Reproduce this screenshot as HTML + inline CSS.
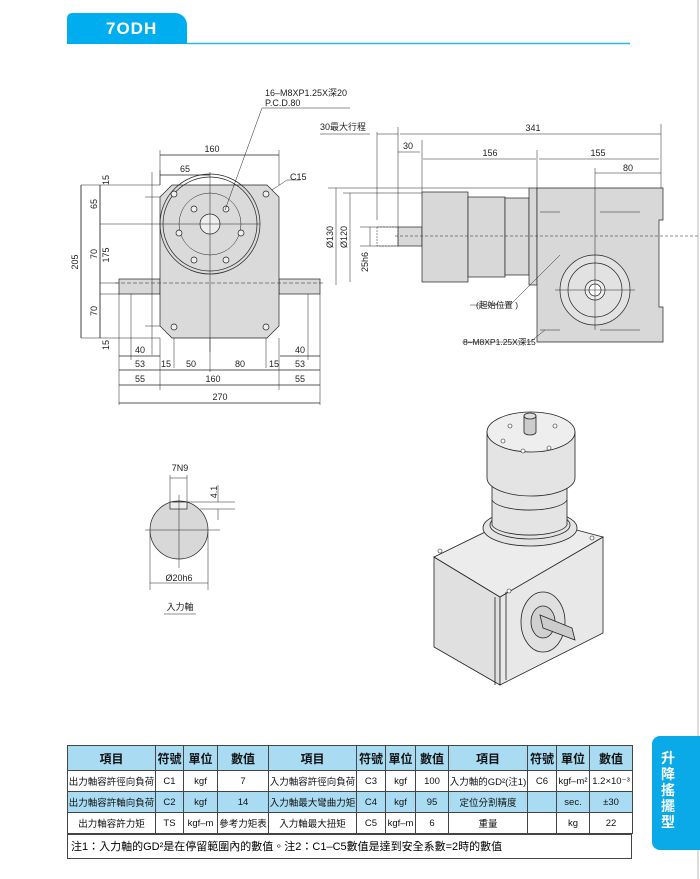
<!DOCTYPE html>
<html><head><meta charset="utf-8"><style>
body{margin:0;background:#fff;width:700px;height:879px;overflow:hidden;position:relative;font-family:"Liberation Sans","Noto Sans CJK TC",sans-serif}
svg{position:absolute;left:0;top:0}
table{position:absolute;left:67px;top:745px;border-collapse:collapse;font-size:9.5px;color:#111}
td{border:1px solid #444;text-align:center;padding:0;height:20px;font-family:"Liberation Sans","Noto Sans CJK TC",sans-serif}
tr.h td{background:#a9dcf2;height:24px;font-size:12px;font-weight:bold}
tr.b td{background:#a9dcf2}
#note{position:absolute;left:67px;top:834px;width:565px;height:25px;border:1px solid #444;box-sizing:border-box;font-size:11px;line-height:24px;padding-left:3px}
#tab{position:absolute;left:652px;top:736px;width:48px;height:114px;background:#0aa9e8;border-radius:8px 0 0 8px;color:#fff;font-weight:bold;font-size:14px;line-height:16px;padding-top:14px;box-sizing:border-box;padding-left:9px;font-family:"Noto Sans CJK TC",sans-serif}
</style></head><body>
<svg width="700" height="879" font-family="Liberation Sans, Noto Sans CJK TC, sans-serif" font-size="9" fill="#222">
<line x1="698" y1="0" x2="698" y2="879" stroke="#bbb"/>
<path d="M67 44 V18 a5 5 0 0 1 5-5 H175 a12 12 0 0 1 12 12 V44 Z" fill="#00aeef"/>
<line x1="187" y1="43.5" x2="630" y2="43.5" stroke="#29b8f0" stroke-width="1.5"/>
<text x="106" y="34" font-size="17" font-weight="bold" fill="#fff" letter-spacing="1">7ODH</text>
<g stroke="#222" stroke-width="0.7" fill="none">
<rect x="119" y="279" width="41" height="15" fill="#d8d8d8"/>
<rect x="279" y="279" width="41" height="15" fill="#d8d8d8"/>
<path d="M172 185 H267 L279 197 V326 L267 338 H172 L160 326 V197 Z" fill="#dadada"/>
<circle cx="210" cy="224" r="50"/><circle cx="210" cy="224" r="47"/>
<circle cx="210" cy="224" r="31" stroke-width="0.5"/>
<circle cx="210" cy="224" r="10" fill="#eee"/>
<g fill="#eee"><circle cx="174" cy="194" r="3"/><circle cx="266" cy="194" r="3"/><circle cx="174" cy="327" r="3"/><circle cx="266" cy="327" r="3"/>
<circle cx="194" cy="209" r="3"/><circle cx="226" cy="209" r="3"/><circle cx="179" cy="233" r="3"/><circle cx="241" cy="233" r="3"/><circle cx="194" cy="260" r="3"/><circle cx="226" cy="260" r="3"/></g>
<line x1="210" y1="172" x2="210" y2="352" stroke-width="0.5"/>
<line x1="115" y1="283" x2="325" y2="283" stroke-dasharray="4 2" stroke-width="0.5"/>
<line x1="100" y1="224" x2="260" y2="224" stroke-width="0.5"/>
<path d="M160 150V185M279 150V185M160 170v15M81 185H160M81 338H160M81 185V338M100 185V338M100 224M100 283H119M100 294H119M152 172V355M145 197h15M145 326h15M225 210L262 108H350M272 190L287 180H300M119 294V405M320 294V405M160 338V390M279 338V390M174 338v30M266 338v30M210 338V372M131 294V360M308 294V360" stroke-width="0.5"/>
<path d="M160 155H279M160 175H210M81 185V338M100 185V283M100 283V338M119 356H160M280 356H320M119 370H160M160 370H175M175 370H210M210 370H266M266 370H279M279 370H320M119 385H160M160 385H279M279 385H320M119 403H320"/>
</g>
<g font-size="9">
<text x="212" y="152" text-anchor="middle">160</text><text x="185" y="172" text-anchor="middle">65</text>
<text x="290" y="180">C15</text>
<text x="265" y="96">16–M8XP1.25X深20</text><text x="265" y="106">P.C.D.80</text>
<text x="140" y="353" text-anchor="middle">40</text><text x="300" y="353" text-anchor="middle">40</text>
<text x="140" y="367" text-anchor="middle">53</text><text x="166" y="367" text-anchor="middle">15</text><text x="191" y="367" text-anchor="middle">50</text><text x="240" y="367" text-anchor="middle">80</text><text x="274" y="367" text-anchor="middle">15</text><text x="300" y="367" text-anchor="middle">53</text>
<text x="140" y="382" text-anchor="middle">55</text><text x="213" y="382" text-anchor="middle">160</text><text x="300" y="382" text-anchor="middle">55</text>
<text x="220" y="400" text-anchor="middle">270</text>
<g transform="rotate(-90)"><text x="-262" y="78" text-anchor="middle">205</text><text x="-204" y="97" text-anchor="middle">65</text><text x="-254" y="97" text-anchor="middle">70</text><text x="-311" y="97" text-anchor="middle">70</text><text x="-255" y="109" text-anchor="middle">175</text><text x="-180" y="109" text-anchor="middle">15</text><text x="-345" y="109" text-anchor="middle">15</text>
<text x="-237" y="333" text-anchor="middle">Ø130</text><text x="-237" y="347" text-anchor="middle">Ø120</text><text x="-262" y="368" text-anchor="middle">25h6</text><text x="-492" y="217" text-anchor="middle">4.1</text></g>
</g>
<g stroke="#222" stroke-width="0.7" fill="#d8d8d8">
<rect x="398" y="227" width="24" height="19"/>
<rect x="422" y="192" width="46" height="90"/>
<rect x="468" y="197" width="37" height="80"/>
<rect x="505" y="198" width="24" height="77"/>
<rect x="529" y="188" width="8" height="97"/>
<path d="M537 188H663V220H659V307H663V342H537Z"/>
<circle cx="595" cy="290" r="35" fill="#e2e2e2"/><circle cx="595" cy="290" r="27" fill="none"/><circle cx="595" cy="290" r="10" fill="#eee"/><circle cx="595" cy="290" r="6" fill="#fff"/>
</g>
<g stroke="#222" stroke-width="0.5" fill="none">
<rect x="377" y="227" width="21" height="19" stroke-dasharray="2 1"/>
<line x1="395" y1="236" x2="700" y2="236" stroke-dasharray="3 2"/>
<line x1="595" y1="174" x2="595" y2="330"/><line x1="555" y1="290" x2="635" y2="290"/>
<path d="M377 132V220M398 127V227M422 140V192M537 150V188M661 124V188M328 188H529M343 193H422M360 227H398M360 246H398M595 168V174M320 134H370M400 134H661M377 134H398M398 152H420M423 159H536M539 159H659M595 173H661M336 188V285M350 193V282M370 227V246M470 305H510L560 255M530 342L545 330M462 342H530"/>
<path d="M540 212H560M600 212H640M540 330H560M600 330H640"/>
</g>
<g font-size="9">
<text x="320" y="130">30最大行程</text><text x="533" y="131" text-anchor="middle">341</text>
<text x="408" y="149" text-anchor="middle">30</text><text x="490" y="156" text-anchor="middle">156</text><text x="598" y="156" text-anchor="middle">155</text><text x="628" y="171" text-anchor="middle">80</text>
<text x="476" y="308" font-size="8.5">(起始位置 )</text><text x="463" y="345" font-size="8.5">8–M8XP1.25X深15</text>
</g>
<g stroke="#222" stroke-width="0.7">
<circle cx="179" cy="530" r="29" fill="#d8d8d8"/>
<rect x="170" y="502" width="17" height="7" fill="#eee"/>
<path d="M145 530H220M179 495V568M170 475V502M187 475V502M150 532V590M208 532V590M150 583H208M170 478H187M187 502H235M200 509H235M218 485V502M218 509V520" fill="none" stroke-width="0.5"/>
</g>
<text x="180" y="471" text-anchor="middle" font-size="9">7N9</text>
<text x="179" y="581" text-anchor="middle" font-size="9">Ø20h6</text>
<text x="180" y="610" text-anchor="middle" font-size="9">入力軸</text>
<line x1="164" y1="614" x2="196" y2="614" stroke="#222" stroke-width="0.6"/>
<g stroke="#222" stroke-width="0.8" fill="#e4e4e4">
<path d="M434 557L500 597V685L434 647Z" fill="#e0e0e0"/>
<path d="M500 597L603 537V633L500 685Z" fill="#e8e8e8"/>
<path d="M434 557L520 515L603 537L500 597Z" fill="#ececec"/>
<path d="M495 597V685M506 592V680" fill="none"/>
<ellipse cx="530" cy="528" rx="47" ry="18"/><ellipse cx="530" cy="525" rx="40" ry="14"/>
<path d="M492 478V525A38 12 0 0 0 567 525V478Z"/>
<path d="M492 500A38 12 0 0 0 567 500" fill="none"/>
<path d="M487 432V478A44 18 0 0 0 575 478V432Z"/>
<ellipse cx="531" cy="432" rx="44" ry="20" fill="#eee"/>
<path d="M524 416V432A6 3 0 0 0 536 432V416Z" fill="#ccc"/><ellipse cx="530" cy="416" rx="6" ry="3" fill="#ddd"/>
<g fill="#fff" stroke-width="0.6"><circle cx="510" cy="426" r="2"/><circle cx="555" cy="426" r="2"/><circle cx="503" cy="441" r="2"/><circle cx="523" cy="451" r="2"/><circle cx="549" cy="448" r="2"/><circle cx="440" cy="551" r="2"/><circle cx="592" cy="538" r="2"/><circle cx="509" cy="591" r="2"/></g>
<ellipse cx="543" cy="622" rx="22" ry="30" fill="#e0e0e0"/><ellipse cx="543" cy="622" rx="12" ry="16" fill="#d0d0d0"/>
<path d="M540 615L572 628L575 640L543 628Z" fill="#ccc"/>
</g>
</svg>
<table>
<colgroup><col style="width:88px"><col style="width:28px"><col style="width:34px"><col style="width:51px"><col style="width:88px"><col style="width:29px"><col style="width:30px"><col style="width:33px"><col style="width:79px"><col style="width:29px"><col style="width:33px"><col style="width:43px"></colgroup>
<tr class="h"><td>項目</td><td>符號</td><td>單位</td><td>數值</td><td>項目</td><td>符號</td><td>單位</td><td>數值</td><td>項目</td><td>符號</td><td>單位</td><td>數值</td></tr>
<tr><td>出力軸容許徑向負荷</td><td>C1</td><td>kgf</td><td>7</td><td>入力軸容許徑向負荷</td><td>C3</td><td>kgf</td><td>100</td><td>入力軸的GD²(注1)</td><td>C6</td><td>kgf–m²</td><td>1.2×10⁻³</td></tr>
<tr class="b"><td>出力軸容許軸向負荷</td><td>C2</td><td>kgf</td><td>14</td><td>入力軸最大彎曲力矩</td><td>C4</td><td>kgf</td><td>95</td><td>定位分割精度</td><td></td><td>sec.</td><td>±30</td></tr>
<tr><td>出力軸容許力矩</td><td>TS</td><td>kgf–m</td><td>參考力矩表</td><td>入力軸最大扭矩</td><td>C5</td><td>kgf–m</td><td>6</td><td>重量</td><td></td><td>kg</td><td>22</td></tr>
</table>
<div id="note">注1：入力軸的GD²是在停留範圍內的數值。注2：C1–C5數值是達到安全系數=2時的數值</div>
<div id="tab">升<br>降<br>搖<br>擺<br>型</div>
</body></html>
